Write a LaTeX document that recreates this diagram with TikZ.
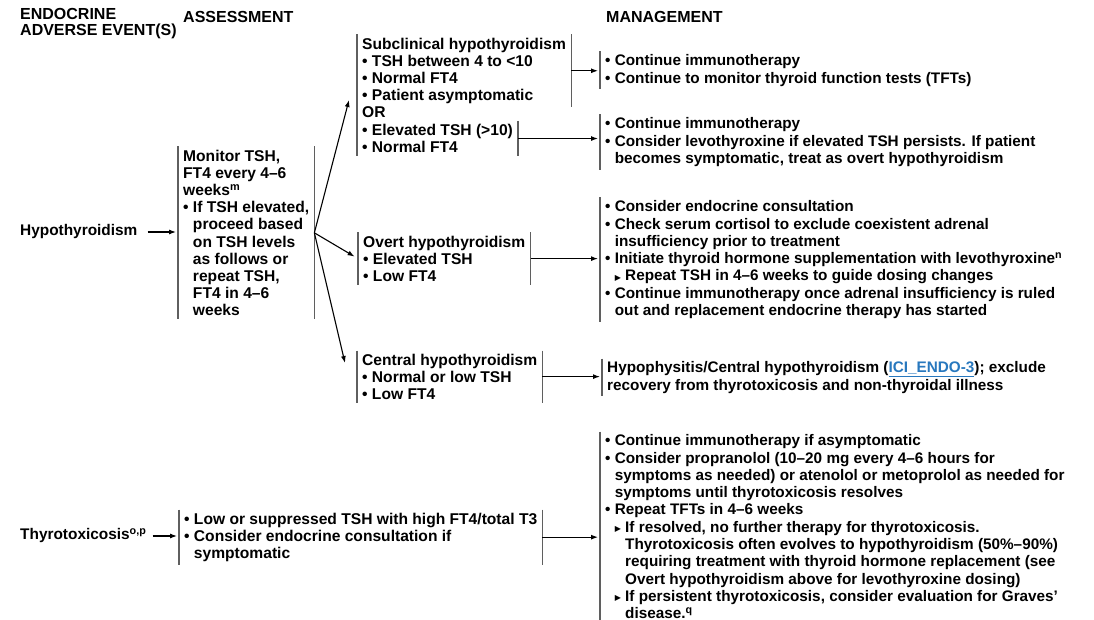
\documentclass[tikz,border=0pt]{standalone}
\usepackage{fontspec}
\setmainfont{Liberation Sans}
\newfontfamily\trifont{DejaVu Sans}
\usetikzlibrary{calc,arrows.meta}

\definecolor{bargray}{RGB}{95,95,95}
\definecolor{linkblue}{RGB}{40,120,190}

% bullets and hanging indents
\newcommand{\bu}{\textbullet\ }
\newcommand{\hi}{\hphantom{\textbullet\ }}
\newcommand{\sbu}{{\trifont\fontsize{8}{8}\selectfont\raisebox{0.8pt}{▶}}\ }
\newcommand{\hs}{\hphantom{\sbu}}

\begin{document}
\begin{tikzpicture}[x=1pt,y=-1pt,
        bar/.style={draw=bargray, line width=1.2pt},
        arr/.style={-{Latex[length=7pt,width=5pt]}, line width=1.1pt, shorten >=2pt},
    ]
    \useasboundingbox[fill=white] (0,0) rectangle (1094,620);
    % column headings
    \tikzstyle{head}=[anchor=north west, inner sep=0, align=left, font=\bfseries\fontsize{16}{16}\selectfont]
    % text blocks between bars
    \tikzstyle{blk}=[anchor=north west, inner xsep=5pt, inner ysep=3pt, align=left, font=\bfseries\fontsize{15.3}{17.3}\selectfont]
    % assessment column is set a little larger
    \tikzstyle{ablk}=[blk, font=\bfseries\fontsize{15.6}{17.2}\selectfont]
    % adverse event names
    \tikzstyle{lbl}=[anchor=west, inner sep=0, font=\bfseries\fontsize{15.4}{17.3}\selectfont]
    \node[head] (hEvent) at (20,8) {ENDOCRINE\\ADVERSE EVENT(S)};
    \node[head] (hAssess) at (183,11) {ASSESSMENT};
    \node[head] (hMgmt) at (606,11) {MANAGEMENT};

    % hypothyroidism
    \node[lbl] (hypo) at (20,232) {Hypothyroidism};
    \node[ablk] (monitor) at (178,146.5) {Monitor TSH,\\FT4 every 4--6\\weeks\textsuperscript{m}\\
        \bu If TSH elevated,\\\hi proceed based\\\hi on TSH levels\\\hi as follows or\\\hi repeat TSH,\\\hi FT4 in 4--6\\\hi weeks};
    \node[ablk] (subA) at (357,34.5) {Subclinical hypothyroidism\\\bu TSH between 4 to <10\\\bu Normal FT4\\\bu Patient asymptomatic};
    \node[ablk] (subOR) at (357,103.5) {OR};
    \node[ablk] (subB) at (357,121) {\bu Elevated TSH (>10)\\\bu Normal FT4};
    \node[ablk] (overt) at (358,232.5) {Overt hypothyroidism\\\bu Elevated TSH\\\bu Low FT4};
    \node[ablk] (central) at (357,350.5) {Central hypothyroidism\\\bu Normal or low TSH\\\bu Low FT4};

    \node[blk] (mg1) at (600,51.5) {\bu Continue immunotherapy\\\bu Continue to monitor thyroid function tests (TFTs)};
    \node[blk] (mg2) at (600,114.5) {\bu Continue immunotherapy\\
        \bu Consider levothyroxine if elevated TSH persists. If patient\\\hi becomes symptomatic, treat as overt hypothyroidism};
    \node[blk] (mg3) at (600,197.5) {\bu Consider endocrine consultation\\
        \bu Check serum cortisol to exclude coexistent adrenal\\\hi insufficiency prior to treatment\\
        \bu Initiate thyroid hormone supplementation with levothyroxine\textsuperscript{n}\\
        \hi\sbu Repeat TSH in 4--6 weeks to guide dosing changes\\
        \bu Continue immunotherapy once adrenal insufficiency is ruled\\\hi out and replacement endocrine therapy has started};
    \node[blk] (mg4) at (602,358.5) {Hypophysitis/Central hypothyroidism (\textcolor{linkblue}{\underline{ICI\_ENDO-3}}); exclude\\
        recovery from thyrotoxicosis and non-thyroidal illness};

    % thyrotoxicosis
    \node[lbl] (thyro) at (20,536) {Thyrotoxicosis\textsuperscript{o,p}};
    \node[ablk] (tbox) at (179,509.5) {\bu Low or suppressed TSH with high FT4/total T3\\
        \bu Consider endocrine consultation if\\\hi symptomatic};
    \node[blk] (mg5) at (600,431.5) {\bu Continue immunotherapy if asymptomatic\\
        \bu Consider propranolol (10--20 mg every 4--6 hours for\\
        \hi symptoms as needed) or atenolol or metoprolol as needed for\\
        \hi symptoms until thyrotoxicosis resolves\\
        \bu Repeat TFTs in 4--6 weeks\\
        \hi\sbu If resolved, no further therapy for thyrotoxicosis.\\
        \hi\hs Thyrotoxicosis often evolves to hypothyroidism (50\%--90\%)\\
        \hi\hs requiring treatment with thyroid hormone replacement (see\\
        \hi\hs Overt hypothyroidism above for levothyroxine dosing)\\
        \hi\sbu If persistent thyrotoxicosis, consider evaluation for Graves'\\
        \hi\hs disease.\textsuperscript{q}};

    % bars on both sides
    \foreach \n in {monitor,overt,central,tbox} {
        \draw[bar] (\n.north west) -- (\n.south west);
        \draw[bar] (\n.north east) -- (\n.south east);
    }
    \draw[bar] (subA.north west) -- (subB.south west);
    \draw[bar] (subA.north east) -- (subA.south east);
    \draw[bar] (subB.north east) -- (subB.south east);
    % bars on the left only
    \foreach \n in {mg1,mg2,mg3,mg4,mg5}
        \draw[bar] (\n.north west) -- (\n.south west);

    % arrow tips of the fan
    \coordinate (toSub) at (349,100);
    \coordinate (toCentral) at (345,363);
    \draw[arr, shorten >=0pt] (monitor.east) -- (toSub);
    \draw[arr, shorten >=4pt] (monitor.east) -- (overt.west);
    \draw[arr, shorten >=0pt] (monitor.east) -- (toCentral);

    \draw[arr, shorten <=10pt] (hypo.east) -- (hypo.east -| monitor.west);
    \draw[arr, shorten <=6pt] (thyro.east) -- (thyro.east -| tbox.west);
    \draw[arr] (subA.east) -- (subA.east -| mg1.west);
    \draw[arr] (subB.east) -- (subB.east -| mg2.west);
    \draw[arr] (overt.east) -- (overt.east -| mg3.west);
    \draw[arr] (central.east) -- (central.east -| mg4.west);
    \draw[arr] (tbox.east) -- (tbox.east -| mg5.west);
\end{tikzpicture}
\end{document}
